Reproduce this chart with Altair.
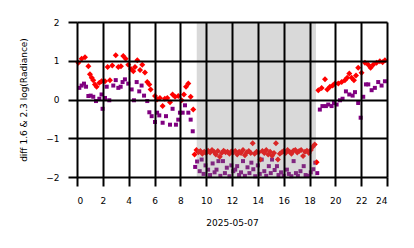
import altair as alt
import pandas as pd

# Red diamond series (hour, value)
red_hours = [0.1, 0.36, 0.62, 0.88, 1.0, 1.14, 1.26, 1.39, 1.52, 1.73, 1.9, 2.17, 2.37, 2.55, 2.73,
             3.0, 3.2, 3.4, 3.58, 3.77, 3.97, 4.18, 4.36, 4.49, 4.67, 4.88, 5.05, 5.26, 5.44, 5.6,
             5.7, 6.04, 6.2, 6.42, 6.63, 6.8, 6.99, 7.2, 7.4, 7.59, 7.84, 8.1, 8.28, 8.44, 8.62,
             8.8, 9.0,
             9.1, 9.25, 9.4, 9.55, 9.7, 9.85, 10.0, 10.15, 10.3, 10.45, 10.6, 10.75, 10.9, 11.05,
             11.2, 11.35, 11.5, 11.65, 11.8, 11.95, 12.1, 12.25, 12.4, 12.55, 12.7, 12.85, 13.0,
             13.15, 13.3, 13.45, 13.6, 13.75, 13.9, 14.05, 14.2, 14.35, 14.5, 14.65, 14.8, 14.95,
             15.1, 15.25, 15.4, 15.55, 15.7, 15.85, 16.0, 16.15, 16.3, 16.45, 16.6, 16.75, 16.9,
             17.05, 17.2, 17.35, 17.5, 17.65, 17.8, 17.95, 18.1, 18.25, 18.4, 18.55,
             18.68, 18.94, 19.2, 19.38, 19.58, 19.79, 19.97, 20.23, 20.49, 20.74, 20.92, 21.08,
             21.26, 21.44, 21.6, 21.77, 22.03, 22.29, 22.55, 22.73, 22.93, 23.19, 23.45, 23.66, 23.84]
red_vals = [0.95, 1.05, 1.09, 0.86, 0.65, 0.56, 0.5, 0.39, 0.33, 0.43, 0.47, 0.47, 0.84, 0.5, 0.88,
            1.14, 0.84, 0.86, 1.12, 1.05, 0.9, 0.79, 0.73, 0.84, 1.01, 0.76, 0.9, 0.7, 0.45, 0.39,
            0.26, 0.09, 0.0, 0.04, -0.17, 0.02, 0.04, -0.07, 0.13, 0.07, 0.09, -0.02, 0.13, 0.33, 0.41,
            0.07, -0.26,
            -1.42, -1.30, -1.36, -1.33, -1.40, -1.35, -1.38, -1.32, -1.37, -1.30, -1.35, -1.42, -1.33, -1.48,
            -1.38, -1.32, -1.36, -1.35, -1.40, -1.34, -1.36, -1.33, -1.42, -1.35, -1.38, -1.30, -1.44,
            -1.36, -1.33, -1.38, -1.13, -1.40, -1.35, -1.37, -1.55, -1.33, -1.38, -1.30, -1.42, -1.35,
            -1.45, -1.38, -1.13, -1.55, -1.40, -1.36, -1.33, -1.38, -1.30, -1.35, -1.40, -1.32, -1.30,
            -1.37, -1.33, -1.30, -1.46, -1.35, -1.32, -1.38, -1.30, -1.22, -1.16, -1.62,
            0.24, 0.3, 0.52, 0.26, 0.33, 0.36, 0.41, 0.41, 0.45, 0.5, 0.56, 0.67,
            0.56, 0.5, 0.62, 0.82, 0.69, 0.95, 0.9, 0.82, 0.9, 0.95, 0.99, 0.96, 1.01]

# Purple square series (hour, value)
purple_hours = [0.18, 0.36, 0.54, 0.7, 0.88, 1.06, 1.26, 1.47, 1.73, 1.9, 1.98, 2.17, 2.3, 2.5, 2.81,
                3.0, 3.2, 3.38, 3.53, 3.71, 3.97, 4.23, 4.41, 4.62, 4.82, 5.0, 5.19, 5.44, 5.6, 5.78,
                6.04, 6.2, 6.37, 6.63, 6.89, 7.2, 7.4, 7.66, 7.84, 7.97, 8.18, 8.36, 8.62, 8.8, 8.96,
                9.15, 9.3, 9.5, 9.65, 9.8, 9.95, 10.15, 10.3, 10.5, 10.65, 10.8, 10.95, 11.1, 11.3,
                11.45, 11.6, 11.8, 11.95, 12.1, 12.25, 12.4, 12.55, 12.7, 12.85, 13.0, 13.2, 13.35,
                13.5, 13.65, 13.8, 14.0, 14.15, 14.3, 14.5, 14.65, 14.85, 15.0, 15.1, 15.3, 15.48,
                15.6, 15.8, 16.0, 16.25, 16.4, 16.6, 16.77, 16.95, 17.1, 17.3, 17.55, 17.7, 17.9,
                18.1, 18.3, 18.45, 18.6,
                18.8, 19.0, 19.27, 19.45, 19.71, 19.89, 20.1, 20.36, 20.56, 20.82, 21.08, 21.34,
                21.52, 21.77, 21.96, 22.16, 22.37, 22.55, 22.81, 23.06, 23.32, 23.58, 23.84]
purple_vals = [0.30, 0.36, 0.41, 0.33, 0.09, 0.1, 0.07, -0.04, 0.02, 0.13, -0.24, 0.04, 0.33, -0.02, 0.36,
               0.5, 0.3, 0.33, 0.45, 0.52, 0.41, 0.26, -0.02, 0.45, 0.21, 0.36, 0.1, -0.04, -0.33, -0.43,
               -0.58, -0.34, -0.41, -0.6, -0.43, -0.65, -0.24, -0.65, -0.52, -0.34, -0.34, -0.15, -0.34, -0.52, -0.82,
               -1.74, -1.6, -1.85, -1.55, -1.92, -1.7, -1.81, -1.95, -1.65, -1.88, -1.81, -1.59, -1.97, -1.59,
               -1.9, -1.76, -1.98, -1.7, -1.85, -1.81, -1.72, -1.95, -1.88, -1.59, -1.97, -1.75, -1.9,
               -1.63, -1.8, -1.98, -1.7, -1.92, -1.55, -1.85, -1.97, -1.72, -1.9, -1.55, -1.82, -1.72,
               -1.95, -1.88, -1.97, -1.81, -1.92, -1.98, -1.59, -1.9, -1.97, -1.85, -1.72, -1.95, -1.97,
               -1.88, -1.8, -1.63, -1.9,
               -0.26, -0.17, -0.17, -0.13, -0.17, -0.09, -0.13, -0.02, 0.02, 0.21, 0.13, 0.1,
               0.19, -0.09, -0.47, 0.07, 0.39, 0.39, 0.24, 0.3, 0.45, 0.36, 0.47]

# Shaded interval (hours)
shade_start = [9.27]
shade_end = [18.5]

x_ticks = list(range(0, 25, 2))
y_ticks = [-2, -1, 0, 1, 2]

red_df = pd.DataFrame({"hour": red_hours, "val": red_vals})
pur_df = pd.DataFrame({"hour": purple_hours, "val": purple_vals})
shade_df = pd.DataFrame({"hour": shade_start, "hour_end": shade_end})

FONT = "DejaVu Sans"

xscale = alt.Scale(domain=[0, 24], nice=False, zero=False)
yscale = alt.Scale(domain=[-2, 2], nice=False, zero=False)

xaxis = alt.Axis(values=x_ticks, tickCount=13, labelOverlap=False, title="2025-05-07",
                 grid=True, gridColor="black", gridWidth=2,
                 gridOpacity=1, domain=False, tickColor="black", tickWidth=2, tickSize=9,
                 labelFont=FONT, labelFontSize=9, labelColor="black", labelPadding=10,
                 titleFont=FONT, titleFontSize=9, titleFontWeight="normal", titleColor="black",
                 titleY=45, titleBaseline="middle", zindex=1)
yaxis = alt.Axis(values=y_ticks, tickCount=5, labelOverlap=False,
                 title="diff 1.6 & 2.3  log(Radiance)", grid=True, gridColor="black",
                 gridWidth=2, gridOpacity=1, domain=False, tickColor="black", tickWidth=2, tickSize=9,
                 labelFont=FONT, labelFontSize=9, labelColor="black", labelPadding=9,
                 titleFont=FONT, titleFontSize=9, titleFontWeight="normal", titleColor="black",
                 titleX=-54, titleBaseline="middle", zindex=1)

X = alt.X("hour:Q", scale=xscale, axis=xaxis)
Y = alt.Y("val:Q", scale=yscale, axis=yaxis)

purple = alt.Chart(pur_df).mark_point(shape="square", filled=True, size=16, color="#800080",
                                      opacity=1).encode(x=X, y=Y)
red = alt.Chart(red_df).mark_point(shape="diamond", filled=True, size=36, color="#ff0000",
                                   opacity=1).encode(x=X, y=Y)
shade = alt.Chart(shade_df).mark_rect(color="#808080", opacity=0.3).encode(
    x=X,
    x2="hour_end:Q",
    y=alt.value(0),
    y2=alt.value(155),
)

chart = alt.layer(purple, red, shade).properties(
    width=310, height=155,
    autosize=alt.AutoSizeParams(type="none"),
    padding={"left": 77, "top": 22, "right": 27, "bottom": 71},
).configure_view(stroke=None).configure(background="white")

chart.save("out.html", embed_options={"renderer": "svg", "actions": False})
